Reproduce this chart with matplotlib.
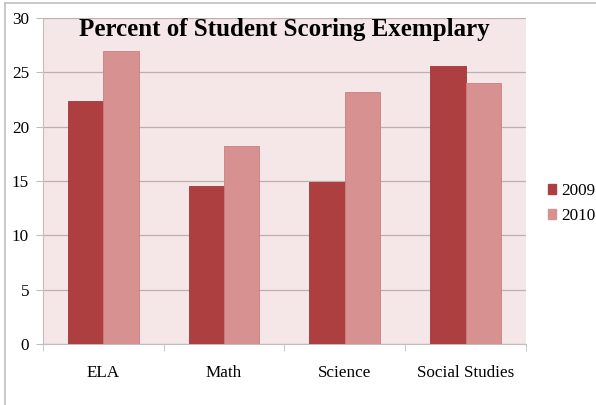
import matplotlib
matplotlib.use("Agg")
import matplotlib.pyplot as plt
import numpy as np
from matplotlib.patches import Rectangle
from matplotlib.lines import Line2D

categories = ["ELA", "Math", "Science", "Social Studies"]
series_names = ["2009", "2010"]
values_2009 = [22.4, 14.5, 14.9, 25.6]
values_2010 = [27.0, 18.2, 23.2, 24.0]
yticks = [0, 5, 10, 15, 20, 25, 30]
title = "Percent of Student Scoring Exemplary"

c2009 = "#AE3F40"
c2010 = "#D79191"
serif = ["Liberation Serif", "DejaVu Serif"]

fig = plt.figure(figsize=(5.96, 4.05), dpi=100)
ax = fig.add_axes([0.0721, 0.1506, 0.8104, 0.805])
ax.set_facecolor("#F5E7E8")

x = np.arange(len(categories))
w = 0.293
ax.bar(x - w / 2, values_2009, w, color=c2009, edgecolor="#A03538", linewidth=0.6, zorder=3, label=series_names[0])
ax.bar(x + w / 2, values_2010, w, color=c2010, edgecolor="#C98080", linewidth=0.6, zorder=3, label=series_names[1])

ax.set_xlim(-0.5, len(categories) - 0.5)
ax.set_ylim(0, 30)
ax.set_yticks(yticks)
ax.yaxis.grid(True, color="#C0AEAE", linewidth=0.9, zorder=1)
ax.set_axisbelow(True)

for s in ["top", "right"]:
    ax.spines[s].set_visible(False)
ax.spines["left"].set_color("#BFBFBF")
ax.spines["bottom"].set_color("#BFBFBF")

ax.set_xticks(x)
ax.set_xticklabels(categories, fontfamily=serif, fontsize=12.3)
ax.tick_params(axis="x", length=0, pad=15)
ax.set_xticks(np.arange(-0.5, len(categories), 1.0), minor=True)
ax.tick_params(axis="x", which="minor", length=5, color="#BFBFBF")
ax.tick_params(axis="y", length=5, color="#BFBFBF", labelsize=12.3, pad=5)
for lab in ax.get_yticklabels():
    lab.set_fontfamily(serif)

ax.text(0.5, 1.0, title, transform=ax.transAxes, ha="center", va="top",
        fontfamily=serif, fontweight="bold", fontsize=18, zorder=5)

handles = [Rectangle((0, 0), 1, 1, color=c2009), Rectangle((0, 0), 1, 1, color=c2010)]
fig.legend(handles, series_names, loc="center left", bbox_to_anchor=(0.919, 0.497),
           frameon=False, prop={"family": serif, "size": 12.3}, borderpad=0, borderaxespad=0,
           handlelength=0.5, handleheight=0.5, handletextpad=0.3, labelspacing=0.55)

# chart frame (top and left edges visible)
fig.add_artist(Line2D([0.008, 0.008], [0, 0.993], transform=fig.transFigure, color="#C0C0C0", linewidth=1.2))
fig.add_artist(Line2D([0.008, 1.0], [0.993, 0.993], transform=fig.transFigure, color="#C0C0C0", linewidth=1.2))

fig.savefig("out.png", dpi=100)
